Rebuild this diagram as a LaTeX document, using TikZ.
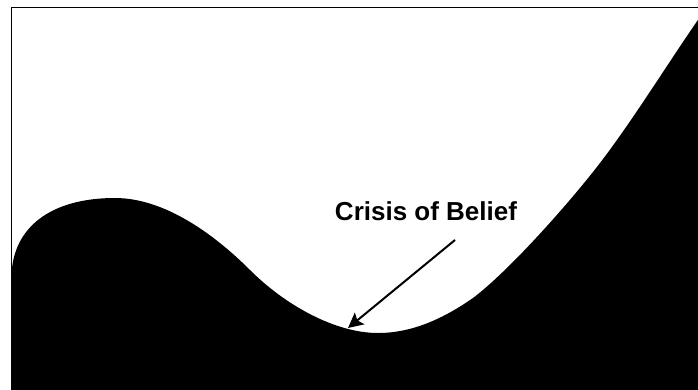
\documentclass[tikz,border=0pt]{standalone}
\usepackage{fontspec}
\setmainfont{Liberation Sans}
\usetikzlibrary{arrows.meta}
\tikzset{
  frame/.style={draw=black, line width=1.8pt},
  hill/.style={fill=black},
  pointer/.style={draw=black, line width=2pt, -{Stealth[length=15pt,width=15pt,inset=3pt]}},
  caption/.style={font=\bfseries\fontsize{26}{30}\selectfont, inner sep=0pt, anchor=base}
}
\begin{document}
\begin{tikzpicture}[x=1pt,y=-1pt]
  \useasboundingbox (0,0) rectangle (698,389);
  \fill[white] (0,0) rectangle (698,389);
  \fill[hill] (11.5,390) -- (11.5,275)
    .. controls (13,228) and (50,198) .. (115,198)
    .. controls (165,198) and (215,235) .. (250,270)
    .. controls (285,305) and (335,333) .. (378,333)
    .. controls (415,333) and (447,316) .. (473,298)
    .. controls (510,270) and (570,202) .. (600,163)
    .. controls (633,120) and (670,60) .. (700,17)
    -- (700,390) -- cycle;
  \draw[frame] (11.5,7.5) rectangle (698.5,390);
  \node[caption] (label) at (426,220) {Crisis of Belief};
  \coordinate (tail) at (455,240);
  \coordinate (tip) at (348,328);
  \draw[pointer] (tail) -- (tip);
\end{tikzpicture}
\end{document}
